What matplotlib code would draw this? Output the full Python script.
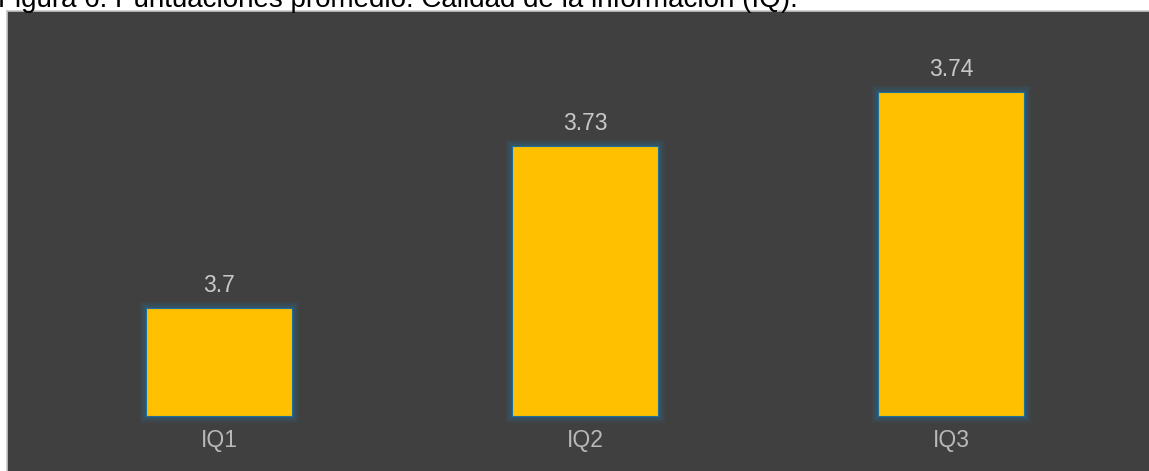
import matplotlib
matplotlib.use("Agg")
import matplotlib.pyplot as plt
import matplotlib.patheffects as pe

plt.rcParams['font.family'] = ['Liberation Sans', 'DejaVu Sans']

categories = ['IQ1', 'IQ2', 'IQ3']
scores = [3.70, 3.73, 3.74]
title = 'Figura 6. Puntuaciones promedio. Calidad de la información (IQ).'
base = 3.68  # value axis starts here

fig = plt.figure(figsize=(11.49, 4.71), dpi=100)
fig.patch.set_facecolor('white')

ax = fig.add_axes([7 / 1149, 0, 1142 / 1149, 460 / 471])
ax.set_facecolor('#404040')

x = range(len(categories))
bars = ax.bar(x, [s - base for s in scores], bottom=base, width=0.4,
              color='#ffc000', edgecolor='#1f6fa0', linewidth=0.8, zorder=3)

# soft blue glow around each bar
glow = [pe.Stroke(linewidth=w, foreground='#2a6f9a', alpha=0.12)
        for w in (9, 7, 5, 3)] + [pe.Normal()]
for b in bars:
    b.set_path_effects(glow)

for xi, v in zip(x, scores):
    ax.annotate(f'{v:g}', (xi, v), xytext=(0, 8), textcoords='offset points',
                ha='center', va='bottom', fontsize=16.5, color='#c8c8c8')

ax.set_ylim(3.6698, 3.755)
ax.set_xlim(-0.579, 2.541)
ax.set_xticks(list(x))
ax.set_xticklabels(categories)
ax.tick_params(axis='x', length=0, pad=-30, labelsize=16.5, labelcolor='#b8b8b8')
ax.set_yticks([])

for side in ('right', 'bottom'):
    ax.spines[side].set_visible(False)
for side in ('top', 'left'):
    ax.spines[side].set_color('#c8c8c8')
    ax.spines[side].set_linewidth(1.2)

fig.text(-0.002, 1 - 7 / 471, title, fontsize=20, color='black',
         ha='left', va='baseline')

fig.savefig('out.png', dpi=100)
